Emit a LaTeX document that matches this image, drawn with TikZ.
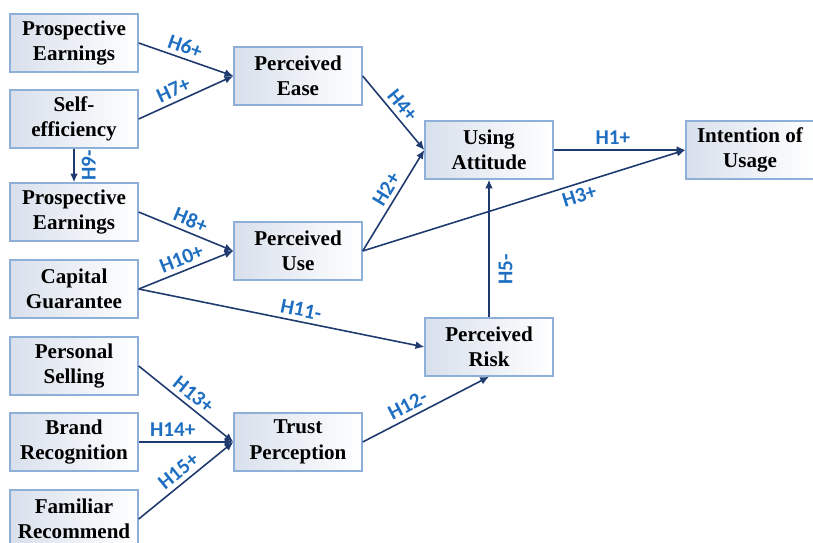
\documentclass[tikz,border=0pt]{standalone}
\usepackage{fontspec}
\setmainfont{Liberation Serif}
\newfontfamily\hypfont{Carlito}
\usepackage{xcolor}
\usetikzlibrary{arrows.meta, positioning}

\definecolor{boxline}{HTML}{8EB0D8}
\definecolor{boxshade}{HTML}{D8E0EC}
\definecolor{linkcol}{HTML}{1F3A6E}
\definecolor{hypcol}{HTML}{1E6FC1}

\begin{document}
\begin{tikzpicture}[x=0.02cm, y=-0.02cm,
  block/.style={rectangle, draw=boxline, line width=0.8pt, left color=boxshade, right color=white,
    minimum width=2.56cm, minimum height=1.16cm, inner sep=1pt, align=center,
    font=\fontsize{12}{14.5}\selectfont\bfseries},
  arrow/.style={-{Latex[length=5pt,width=4.5pt]}, linkcol, line width=0.9pt},
  hyp/.style={font=\hypfont\fontsize{12}{14}\selectfont\bfseries, text=hypcol, inner sep=2.5pt},
]
\useasboundingbox (0,0) rectangle (813,543);

\node[block] (pe1) at (74,43) {Prospective\\Earnings};
\node[block] (self) at (74,119) {Self-\\efficiency};
\node[block] (pe2) at (74,212) {Prospective\\Earnings};
\node[block] (cap) at (74,289) {Capital\\Guarantee};
\node[block] (sell) at (74,366) {Personal\\Selling};
\node[block] (brand) at (74,442) {Brand\\Recognition};
\node[block] (fam) at (74,519) {Familiar\\Recommend};
\node[block] (ease) at (298,76) {Perceived\\Ease};
\node[block] (use) at (298,251) {Perceived\\Use};
\node[block] (trust) at (298,442) {Trust\\Perception};
\node[block] (att) at (489,150) {Using\\Attitude};
\node[block] (risk) at (489,347) {Perceived\\Risk};
\node[block] (intent) at (750,150) {Intention of\\Usage};

\draw[arrow] (pe1.east) -- node[hyp, sloped, above, pos=0.45]{H6+} (ease.west);
\draw[arrow] (self.east) -- node[hyp, sloped, above, pos=0.42]{H7+} (ease.west);
\draw[arrow] (self) -- node[hyp, rotate=90, anchor=north, inner sep=4pt]{H9-} (pe2);
\draw[arrow] (pe2.east) -- node[hyp, sloped, above, pos=0.5]{H8+} (use.west);
\draw[arrow] (cap.east) -- node[hyp, sloped, above, pos=0.5]{H10+} (use.west);
\draw[arrow] (cap.east) -- node[hyp, sloped, above, pos=0.56]{H11-} (risk.west);
\draw[arrow] (sell.east) -- node[hyp, sloped, above, pos=0.5]{H13+} (trust.west);
\draw[arrow] (brand.east) -- node[hyp, above, pos=0.36]{H14+} (trust.west);
\draw[arrow] (fam.east) -- node[hyp, sloped, above, pos=0.5]{H15+} (trust.west);
\draw[arrow] (ease.east) -- node[hyp, sloped, above, pos=0.5]{H4+} (att.west);
\draw[arrow] (use.east) -- node[hyp, sloped, above, pos=0.55]{H2+} (att.west);
\draw[arrow] (use.east) -- node[hyp, sloped, below, pos=0.66]{H3+} (intent.west);
\draw[arrow] (att) -- node[hyp, above, pos=0.45]{H1+} (intent);
\draw[arrow] (trust.east) -- node[hyp, sloped, above, pos=0.4]{H12-} (risk.south);
\draw[arrow] (risk) -- node[hyp, rotate=90, anchor=north, inner sep=5pt, pos=0.35]{H5-} (att);
\end{tikzpicture}
\end{document}
